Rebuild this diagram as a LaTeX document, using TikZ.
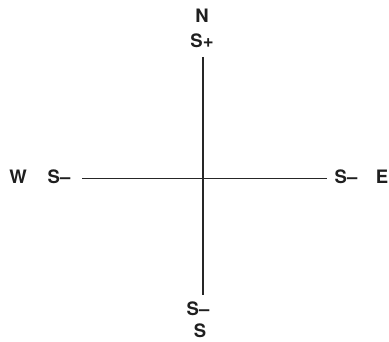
\documentclass[tikz,border=0pt]{standalone}
\usepackage{fontspec}
\setmainfont{TeX Gyre Heros}
\begin{document}
\begin{tikzpicture}[x=1pt,y=-1pt,
  lbl/.style={font=\fontsize{18.5}{20}\selectfont\bfseries, inner sep=0pt, text=black!88},
  axis/.style={line width=1.8pt, draw=black!85}]
\useasboundingbox (0,0) rectangle (389,342);
\node[lbl] (N) at (202,16) {N};
\node[lbl] (Sp) at (202,41) {S+};
\node[lbl] (W) at (18,177) {W};
\node[lbl] (Sw) at (59,177) {S–};
\node[lbl] (Se) at (346,177) {S–};
\node[lbl] (E) at (382,177) {E};
\node[lbl] (Ss) at (198,309) {S–};
\node[lbl] (S) at (200,331) {S};
\coordinate (top) at (203,57);
\coordinate (bot) at (203,295);
\coordinate (lft) at (82,178.5);
\coordinate (rgt) at (327,178.5);
\draw[axis] (top) -- (bot);
\draw[axis] (lft) -- (rgt);
\end{tikzpicture}
\end{document}
